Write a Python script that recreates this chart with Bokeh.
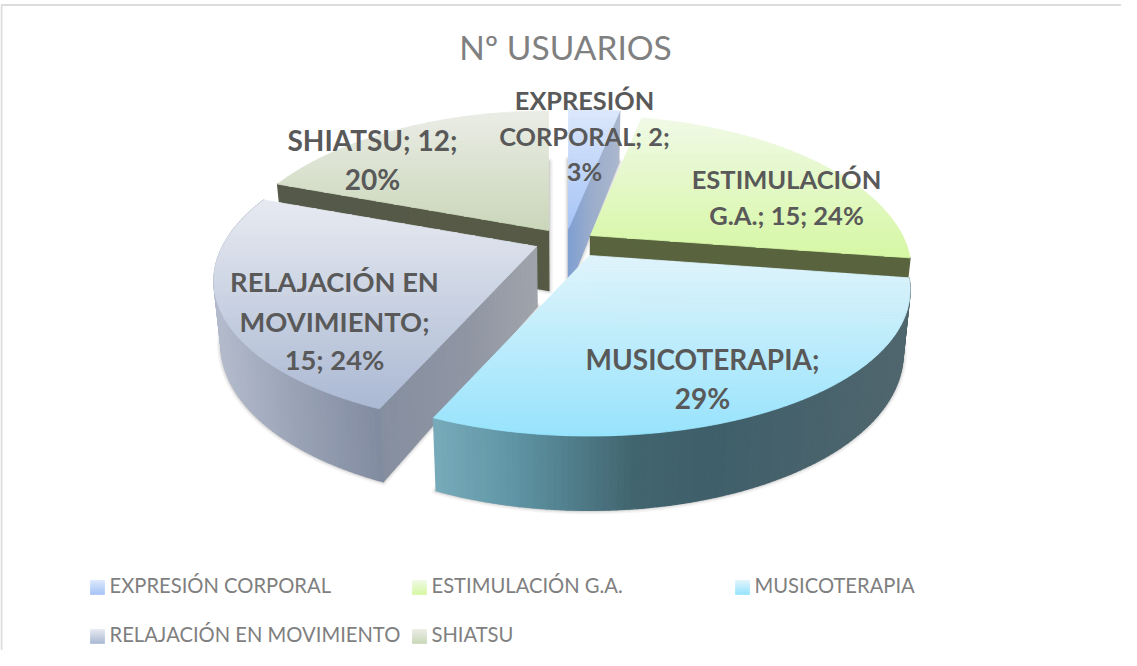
import numpy as np
from bokeh.plotting import figure
from bokeh.core.properties import value
from bokeh.embed import file_html
from bokeh.resources import INLINE

# ---- data ----
categories = ["EXPRESIÓN CORPORAL", "ESTIMULACIÓN G.A.", "MUSICOTERAPIA",
              "RELAJACIÓN EN MOVIMIENTO", "SHIATSU"]
values = [2, 15, 18, 15, 12]
label_lines = [["EXPRESIÓN", "CORPORAL; 2;", "3%"],
               ["ESTIMULACIÓN", "G.A.; 15; 24%"],
               ["MUSICOTERAPIA;", "29%"],
               ["RELAJACIÓN EN", "MOVIMIENTO;", "15; 24%"],
               ["SHIATSU; 12;", "20%"]]
title = "Nº USUARIOS"

# ---- layout / style ----
tip_x = [576, 598, 597, 544, 556]
tip_y = [236, 243, 263, 254, 238]
radius = [312, 312, 312, 314, 312]
top_colors = [("#dce8fc", "#a6c4f6"), ("#f0f9e6", "#d6f7a4"), ("#e0f4fb", "#97e3fc"),
              ("#e7eaf1", "#abb9d3"), ("#ebede6", "#cad7ba")]
label_cx = [592, 794, 710, 342, 380]
label_cy = [[107, 143, 178], [186, 222], [366, 405], [289, 329, 367], [147, 186]]
label_size = [25.3, 25.5, 28, 27.3, 28]
legend_x = [98, 420, 743, 98, 420]
legend_y = [588, 588, 588, 637, 637]
THICK = 60
CX = 575


def hex2rgb(c):
    return np.array([int(c[i:i + 2], 16) for i in (1, 3, 5)], float)


def mix(c1, c2, t):
    v = hex2rgb(c1) * (1 - t) + hex2rgb(c2) * t
    return "#%02x%02x%02x" % tuple(int(round(a)) for a in v)


def ramp(stops, x):
    xs = [s[0] for s in stops]
    i = int(np.clip(np.searchsorted(xs, x) - 1, 0, len(xs) - 2))
    t = float(np.clip((x - xs[i]) / (xs[i + 1] - xs[i]), 0, 1))
    return mix(stops[i][1], stops[i + 1][1], t)


def project(tx, ty, R, deg):
    th = np.radians(np.asarray(deg, float))
    X, Y = np.sin(th), -np.cos(th)
    s = 1 / (1 - 0.23 * Y)
    a = 143 - 4 * Y
    return tx + R * X * s, ty + a * Y * s, s


def drop(x, y, s):
    return CX + (x - CX) * 0.98, y + THICK * (1 + (s - 1) * 0.8)


def clip_band(px, py, y0, y1):
    def clip(pts, keep, cross):
        out = []
        n = len(pts)
        for i in range(n):
            a, b = pts[i], pts[(i + 1) % n]
            if keep(a):
                out.append(a)
            if keep(a) != keep(b):
                t = (cross - a[1]) / (b[1] - a[1])
                out.append((a[0] + t * (b[0] - a[0]), cross))
        return out
    pts = list(zip(px, py))
    pts = clip(pts, lambda p: p[1] >= y0, y0)
    if pts:
        pts = clip(pts, lambda p: p[1] <= y1, y1)
    return pts


P = dict(xs=[], ys=[], fill=[], line=[], fa=[], la=[], lw=[])


def add(xs, ys, fill, fa=1.0, line=None, la=1.0, lw=1.0):
    P["xs"].append([float(v) for v in xs])
    P["ys"].append([float(v) for v in ys])
    P["fill"].append(fill)
    P["line"].append(line or fill)
    P["fa"].append(fa)
    P["la"].append(la)
    P["lw"].append(lw)


def gradient_polygon(px, py, c_top, c_bot, step=3):
    y0, y1 = min(py), max(py)
    y = y0
    while y < y1:
        pts = clip_band(px, py, y, y + step)
        if len(pts) >= 3:
            t = (y + step / 2 - y0) / (y1 - y0)
            c = mix(c_top, c_bot, min(t, 1))
            add([p[0] for p in pts], [p[1] for p in pts], c, lw=0.8)
        y += step


def wall(tx, ty, bx, by, stops):
    for i in range(len(tx) - 1):
        c = ramp(stops, (tx[i] + tx[i + 1]) / 2)
        add([tx[i], tx[i + 1], bx[i + 1], bx[i]], [ty[i], ty[i + 1], by[i + 1], by[i]], c, lw=1.3)


total = sum(values)
edges = np.concatenate([[0], np.cumsum(values)]) / total * 360

arc_walls = {2: [(443, "#77aab9"), (520, "#5f95a5"), (640, "#41656f"), (720, "#3f5f6a"), (910, "#50666e")],
             3: [(226, "#b2bacb"), (300, "#9aa3b6"), (395, "#7f899e")]}
radial_walls = {0: ("end", [(576, "#7f9fd2"), (600, "#9badcc"), (630, "#acb8cd")]),
                1: ("end", [(598, "#59643f"), (917, "#59643f")]),
                3: ("start", [(390, "#868fa0"), (470, "#8f95a3"), (544, "#a0a4ab")]),
                4: ("start", [(284, "#55594a"), (556, "#565a45")])}


def draw_slice(i):
    a0, a1 = edges[i], edges[i + 1]
    tx, ty, R = tip_x[i], tip_y[i], radius[i]
    deg = np.linspace(a0, a1, max(int(a1 - a0), 4) + 1)
    ax, ay, s = project(tx, ty, R, deg)
    bax, bay = drop(ax, ay, s)
    btx, bty = drop(tx, ty, 1.0)
    # soft shadow of the lower outline
    for w, al in ((8, 0.06), (5, 0.09), (2.5, 0.14)):
        add(list(bax) + [btx], list(bay) + [bty], "#555555", fa=0.0, line="#555555", la=al, lw=w)
    # radial walls
    if i in radial_walls:
        side, stops = radial_walls[i]
        ang = a1 if side == "end" else a0
        r = np.linspace(0, 1, 30)
        ex, ey, es = project(tx, ty, R, ang)
        rx = tx + (ex - tx) * r
        ry = ty + (ey - ty) * r
        rs = 1 + (es - 1) * r
        dx, dy = drop(rx, ry, rs)
        wall(rx, ry, dx, dy, stops)
    # outer wall (front facing part)
    if i in arc_walls:
        wall(ax, ay, bax, bay, arc_walls[i])
    # top
    px = [tx] + list(ax)
    py = [ty] + list(ay)
    gradient_polygon(px, py, *top_colors[i])


p = figure(width=1121, height=650, x_range=(8, 1129), y_range=(658, 8),
           output_backend="svg", toolbar_location=None, min_border=0,
           outline_line_color=None, background_fill_color="white", border_fill_color="white")
p.axis.visible = False
p.grid.visible = False

# frame (left and top edges are the ones visible in the picture)
p.line([9, 9, 1129], [658, 12.5, 12.5], line_color="#dcdcdc", line_width=2)

for i in (4, 0, 1, 3, 2):
    draw_slice(i)

# legend swatches
for i in range(len(categories)):
    lx, ly = legend_x[i], legend_y[i]
    gradient_polygon([lx, lx + 14, lx + 14, lx], [ly, ly, ly + 14, ly + 14], *top_colors[i], step=2)

p.patches(xs="xs", ys="ys", fill_color="fill", line_color="line", fill_alpha="fa",
          line_alpha="la", line_width="lw", source=P, line_join="round")

# title
p.text([573], [54], text=[title], text_font=value("Lato"), text_font_size="33.5px",
       text_color="#808080", text_align="center", text_baseline="middle")

# data labels
for i, lines in enumerate(label_lines):
    p.text([label_cx[i]] * len(lines), label_cy[i], text=lines, text_font=value("Lato"),
           text_font_size=f"{label_size[i]}px", text_font_style="bold", text_color="#595959",
           text_align="center", text_baseline="middle")

# legend labels
p.text([x + 19 for x in legend_x], [y + 4 for y in legend_y], text=categories,
       text_font=value("Lato"), text_font_size="20.2px", text_color="#7f7f7f",
       text_align="left", text_baseline="middle")

open("out.html", "w").write(file_html(p, INLINE))
